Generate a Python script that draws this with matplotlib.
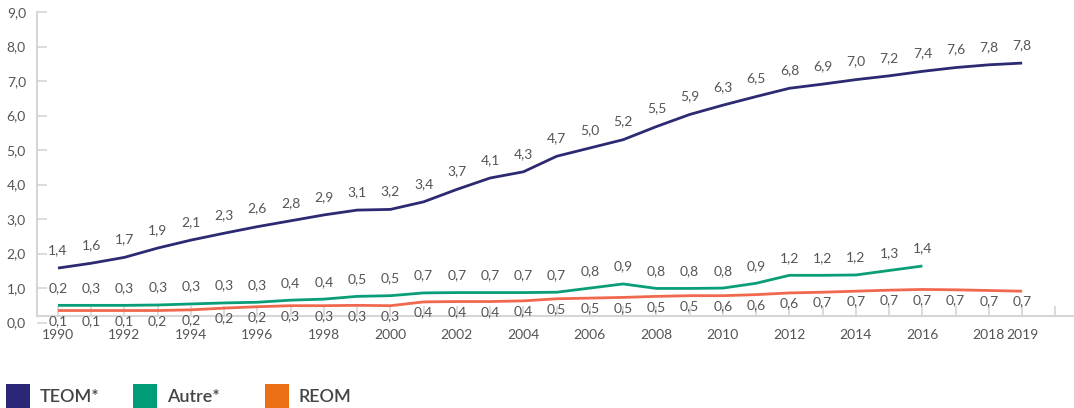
import matplotlib
matplotlib.use("Agg")
import matplotlib.pyplot as plt
from matplotlib.patches import Rectangle

plt.rcParams['font.family'] = ['Lato', 'DejaVu Sans']

years = list(range(1990, 2020))
years_autre = list(range(1990, 2017))

# values printed on the chart
teom_labels = [1.4, 1.6, 1.7, 1.9, 2.1, 2.3, 2.6, 2.8, 2.9, 3.1, 3.2, 3.4, 3.7, 4.1, 4.3,
               4.7, 5.0, 5.2, 5.5, 5.9, 6.3, 6.5, 6.8, 6.9, 7.0, 7.2, 7.4, 7.6, 7.8, 7.8]
autre_labels = [0.2, 0.3, 0.3, 0.3, 0.3, 0.3, 0.3, 0.4, 0.4, 0.5, 0.5, 0.7, 0.7, 0.7,
                0.7, 0.7, 0.8, 0.9, 0.8, 0.8, 0.8, 0.9, 1.2, 1.2, 1.2, 1.3, 1.4]
reom_labels = [0.1, 0.1, 0.1, 0.2, 0.2, 0.2, 0.2, 0.3, 0.3, 0.3, 0.3, 0.4, 0.4, 0.4, 0.4,
               0.5, 0.5, 0.5, 0.5, 0.5, 0.6, 0.6, 0.6, 0.7, 0.7, 0.7, 0.7, 0.7, 0.7, 0.7]

# where the lines are actually drawn in the picture
teom_line = [1.58, 1.72, 1.89, 2.16, 2.39, 2.59, 2.78, 2.95, 3.12, 3.26, 3.28, 3.5, 3.86,
             4.19, 4.37, 4.82, 5.06, 5.3, 5.68, 6.03, 6.3, 6.55, 6.79, 6.91, 7.04, 7.15,
             7.28, 7.39, 7.47, 7.52]
autre_line = [0.5, 0.5, 0.5, 0.51, 0.54, 0.57, 0.59, 0.65, 0.68, 0.76, 0.78, 0.86, 0.87,
              0.87, 0.87, 0.88, 1.0, 1.12, 0.99, 0.99, 1.0, 1.14, 1.37, 1.37, 1.38, 1.51, 1.64]
reom_line = [0.35, 0.35, 0.35, 0.35, 0.37, 0.42, 0.46, 0.49, 0.49, 0.5, 0.49, 0.6, 0.61,
             0.61, 0.63, 0.69, 0.71, 0.73, 0.76, 0.78, 0.78, 0.81, 0.86, 0.88, 0.91, 0.94,
             0.96, 0.95, 0.93, 0.91]

navy = '#2b2a72'
green = '#0a9e78'
red = '#f0684e'
txt = '#555555'
grey = '#d6d6d6'

fig = plt.figure(figsize=(10.74, 4.08), dpi=100)
ax = fig.add_axes([37 / 1074, (408 - 322.6) / 408, 1 - 37 / 1074, (322.6 - 12) / 408])

ax.plot(years, teom_line, color=navy, lw=2.0, solid_capstyle='butt')
ax.plot(years_autre, autre_line, color=green, lw=2.0, solid_capstyle='butt')
ax.plot(years, reom_line, color=red, lw=2.0, solid_capstyle='butt')

def fmt(v):
    return ('%.1f' % v).replace('.', ',')

for x, y, v in zip(years, teom_line, teom_labels):
    ax.annotate(fmt(v), (x, y), xytext=(0, 13), textcoords='offset points',
                ha='center', va='center', fontsize=10, color=txt)
for x, y, v in zip(years_autre, autre_line, autre_labels):
    ax.annotate(fmt(v), (x, y), xytext=(0, 12.5), textcoords='offset points',
                ha='center', va='center', fontsize=10, color=txt)
for x, y, v in zip(years, reom_line, reom_labels):
    ax.annotate(fmt(v), (x, y), xytext=(0, -7.5), textcoords='offset points',
                ha='center', va='center', fontsize=10, color=txt)

ax.set_xlim(1989.37, 2020.56)
ax.set_ylim(0, 9)

ax.spines['top'].set_visible(False)
ax.spines['right'].set_visible(False)
ax.spines['bottom'].set_position(('data', 0.19))
ax.spines['left'].set_bounds(0.19, 9)
for s in ['bottom', 'left']:
    ax.spines[s].set_color(grey)
    ax.spines[s].set_linewidth(1.5)

ax.set_yticks(range(0, 10))
ax.set_yticklabels([fmt(v) for v in range(0, 10)])
tick_years = list(range(1990, 2021))
ax.set_xticks(tick_years)
ax.set_xticklabels([str(y) if (y % 2 == 0 and y <= 2018) or y == 2019 else '' for y in tick_years])
ax.tick_params(axis='both', direction='in', length=7, width=1.2, color=grey,
               labelsize=10, labelcolor=txt)
ax.tick_params(axis='y', pad=8)
ax.tick_params(axis='x', pad=9)

# legend
legend_items = [('TEOM*', '#2b2677', 6), ('Autre*', '#009b77', 133), ('REOM', '#ec7016', 265)]
for name, col, x0 in legend_items:
    fig.add_artist(Rectangle((x0 / 1074, 0), 24 / 1074, 24 / 408, transform=fig.transFigure,
                             color=col, lw=0))
    fig.text((x0 + 34) / 1074, 11 / 408, name, fontsize=13, color='#444444',
             fontweight='semibold', va='center', ha='left')

fig.savefig('out.png', dpi=100)
